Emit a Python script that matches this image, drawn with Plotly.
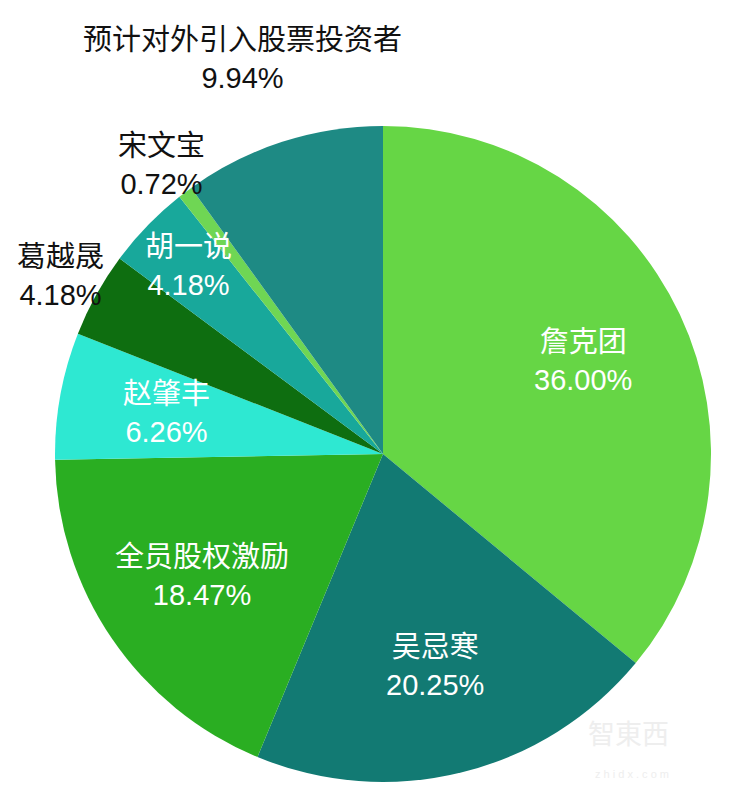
import plotly.graph_objects as go

labels = ["詹克团", "吴忌寒", "全员股权激励", "赵肇丰", "葛越晟", "胡一说", "宋文宝", "预计对外引入股票投资者"]
values = [36.00, 20.25, 18.47, 6.26, 4.18, 4.18, 0.72, 9.94]
colors = ["#66D645", "#127A73", "#2AAE22", "#2EE8D2", "#0E6E10", "#18A89B", "#6FD654", "#1E8A84"]

W, H = 731, 800
OFF = 8  # page body margin offset
cx, cy, r = 383 - OFF, 454 - OFF, 328

# label text placement (pixel centre of each two-line block in the page) and colour
label_pos = [(583, 361), (435, 666), (202, 576), (166, 413), (60, 276), (188, 266), (161, 165), (242, 59)]
label_col = ["white", "white", "white", "white", "#111111", "white", "#111111", "#111111"]

fig = go.Figure(go.Pie(
    labels=labels, values=values, sort=False, direction="clockwise", rotation=0,
    marker=dict(colors=colors, line=dict(width=0)),
    textinfo="none", hoverinfo="label+percent", showlegend=False,
    domain=dict(x=[(cx - r) / W, (cx + r) / W], y=[1 - (cy + r) / H, 1 - (cy - r) / H]),
))

font_family = "Liberation Sans, Noto Sans CJK SC, sans-serif"
for lab, val, (px, py), col in zip(labels, values, label_pos, label_col):
    fig.add_annotation(
        x=(px - OFF) / W, y=1 - (py - OFF) / H, xref="paper", yref="paper",
        text=f"{lab}<br>{val:.2f}%", showarrow=False, align="center",
        xanchor="center", yanchor="middle",
        font=dict(family=font_family, size=29, color=col),
    )

fig.add_annotation(x=(671 - OFF) / W, y=1 - (752 - OFF) / H, xref="paper", yref="paper", text="智東西",
                   showarrow=False, font=dict(family=font_family, size=27, color="#eeeeee"))
fig.add_annotation(x=(671 - OFF) / W, y=1 - (782 - OFF) / H, xref="paper", yref="paper", text="z h i d x . c o m",
                   showarrow=False, font=dict(family=font_family, size=11, color="#eeeeee"))

fig.update_layout(width=W, height=H, margin=dict(l=0, r=0, t=0, b=0),
                  paper_bgcolor="white", plot_bgcolor="white")
fig.write_html("out.html")
